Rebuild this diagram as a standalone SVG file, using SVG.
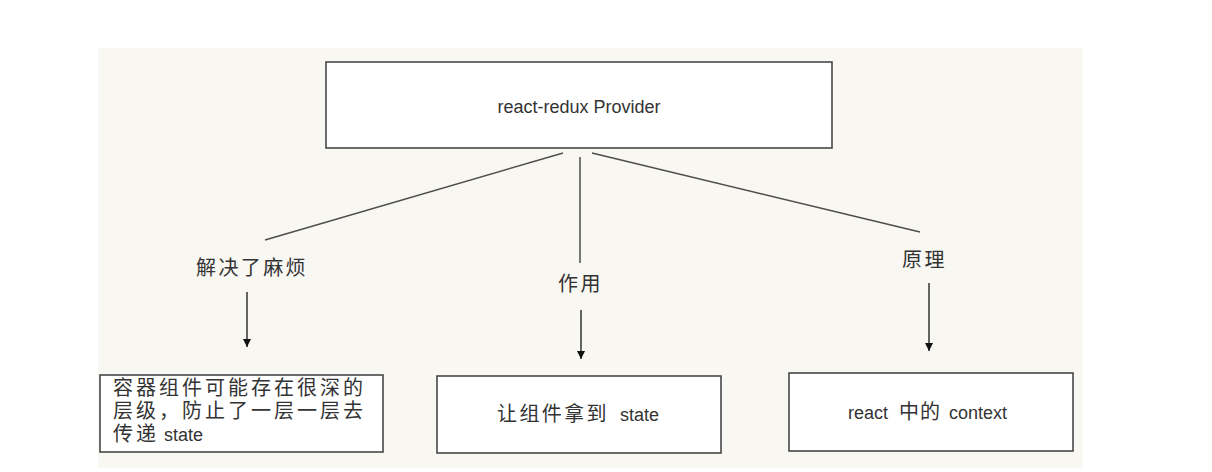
<svg xmlns="http://www.w3.org/2000/svg" width="1212" height="472" viewBox="0 0 1212 472">
  <style>
    .box { fill: #ffffff; stroke: #474747; stroke-width: 1.6; }
    .line { stroke: #4d4d4d; stroke-width: 1.5; fill: none; }
    .arrow { stroke: #333333; stroke-width: 1.5; fill: none; marker-end: url(#ah); }
    .lat { font-family: "Liberation Sans", Arial, sans-serif; font-size: 18px; fill: #333333; }
    .cjk { font-family: "Noto Sans CJK SC", "Noto Sans", sans-serif; font-size: 20px; fill: #333333; letter-spacing: 2.4px; }
  </style>
  <defs>
    <marker id="ah" markerWidth="10" markerHeight="10" refX="9" refY="5" orient="auto" markerUnits="userSpaceOnUse">
      <path d="M1,1 L9,5 L1,9 Z" fill="#111111"/>
    </marker>
  </defs>
  <rect x="0" y="0" width="1212" height="472" fill="#ffffff"/>
  <rect x="98" y="48" width="985" height="420" fill="#f8f7f2"/>

  <g id="connectors">
    <line class="line" x1="563" y1="153" x2="265" y2="240"/>
    <line class="line" x1="580" y1="157" x2="580" y2="263"/>
    <line class="line" x1="592" y1="153" x2="920" y2="232"/>
    <line class="arrow" x1="247" y1="292" x2="247" y2="347"/>
    <line class="arrow" x1="581" y1="310" x2="581" y2="359"/>
    <line class="arrow" x1="929" y1="283" x2="929" y2="351"/>
  </g>

  <g id="provider">
    <rect class="box" x="326" y="62" width="506" height="86"/>
    <text class="lat" x="579" y="113" text-anchor="middle" font-size="18.8">react-redux Provider</text>
  </g>

  <g id="label-trouble">
    <text class="cjk" x="196" y="275">解决了麻烦</text>
  </g>
  <g id="label-effect">
    <text class="cjk" x="558" y="291">作用</text>
  </g>
  <g id="label-principle">
    <text class="cjk" x="902" y="267">原理</text>
  </g>

  <g id="box-trouble">
    <rect class="box" x="100" y="375" width="283" height="77"/>
    <text class="cjk" style="letter-spacing:3px"><tspan x="113" y="395">容器组件可能存在很深的</tspan><tspan x="113" y="418">层级，防止了一层一层去</tspan><tspan x="113" y="441">传递</tspan><tspan class="lat" x="164" y="441" font-size="19" style="letter-spacing:0">state</tspan></text>
  </g>

  <g id="box-effect">
    <rect class="box" x="437" y="376" width="284" height="77"/>
    <text x="497" y="421"><tspan class="cjk">让组件拿到</tspan><tspan class="lat" x="620">state</tspan></text>
  </g>

  <g id="box-principle">
    <rect class="box" x="789" y="373" width="284" height="78"/>
    <text x="848" y="419"><tspan class="lat">react</tspan><tspan class="cjk" x="899" style="letter-spacing:1px">中的</tspan><tspan class="lat" x="949">context</tspan></text>
  </g>
</svg>
